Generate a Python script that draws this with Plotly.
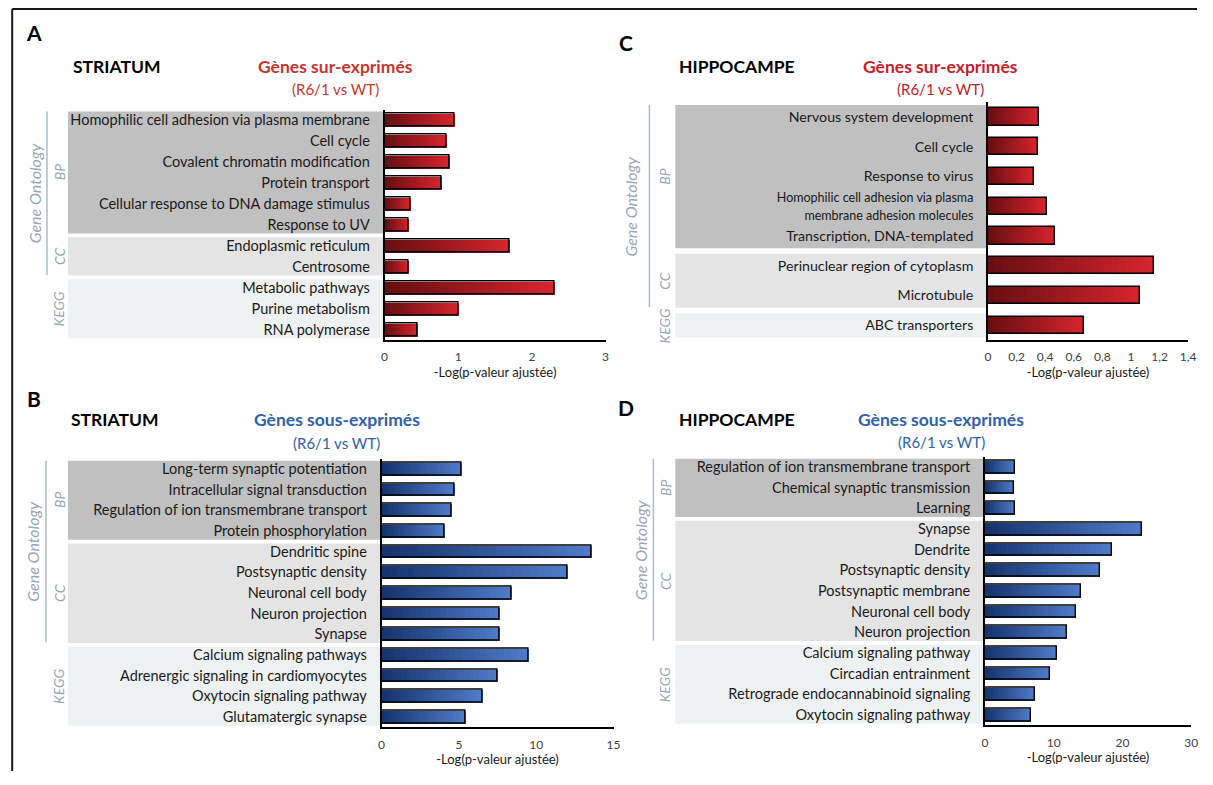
import plotly.graph_objects as go

W, H = 1213, 785
OX, OY = 8, 8            # page body margin
FW, FH = W - 2 * OX, H - 2 * OY - 6   # keep the page free of scrollbars
XS, XC = 0.995, 385      # small horizontal correction around the left plot edge

# ---- data ----
cats_a = ["Homophilic cell adhesion via plasma membrane", "Cell cycle", "Covalent chromatin modification",
          "Protein transport", "Cellular response to DNA damage stimulus", "Response to UV",
          "Endoplasmic reticulum", "Centrosome", "Metabolic pathways", "Purine metabolism", "RNA polymerase"]
vals_a = [0.95, 0.84, 0.88, 0.77, 0.35, 0.33, 1.69, 0.32, 2.31, 1.01, 0.45]
groups_a = [6, 2, 3]

cats_b = ["Long-term synaptic potentiation", "Intracellular signal transduction",
          "Regulation of ion transmembrane transport", "Protein phosphorylation", "Dendritic spine",
          "Postsynaptic density", "Neuronal cell body", "Neuron projection", "Synapse",
          "Calcium signaling pathways", "Adrenergic signaling in cardiomyocytes",
          "Oxytocin signaling pathway", "Glutamatergic synapse"]
vals_b = [5.2, 4.7, 4.5, 4.1, 13.6, 12.0, 8.4, 7.6, 7.6, 9.5, 7.5, 6.5, 5.4]
groups_b = [4, 5, 4]

cats_c = ["Nervous system development", "Cell cycle", "Response to virus",
          "Homophilic cell adhesion via plasma membrane adhesion molecules",
          "Transcription, DNA-templated", "Perinuclear region of cytoplasm", "Microtubule",
          "ABC transporters"]
vals_c = [0.36, 0.35, 0.32, 0.41, 0.47, 1.16, 1.06, 0.67]
groups_c = [5, 2, 1]
labels_c = ["Nervous system development", "Cell cycle", "Response to virus",
            "<span style='font-size:12.5px'>Homophilic cell adhesion via plasma<br>membrane adhesion molecules</span>",
            "Transcription, DNA-templated", "Perinuclear region of cytoplasm", "Microtubule",
            "ABC transporters"]

cats_d = ["Regulation of ion transmembrane transport", "Chemical synaptic transmission", "Learning",
          "Synapse", "Dendrite", "Postsynaptic density", "Postsynaptic membrane", "Neuronal cell body",
          "Neuron projection", "Calcium signaling pathway", "Circadian entrainment",
          "Retrograde endocannabinoid signaling", "Oxytocin signaling pathway"]
vals_d = [4.4, 4.2, 4.4, 22.8, 18.5, 16.8, 13.9, 13.3, 11.9, 10.5, 9.4, 7.3, 6.7]
groups_d = [3, 6, 4]

group_names = ["BP", "CC", "KEGG"]
xtitle = "-Log(p-valeur ajustée)"

RED = ((104, 14, 18), (214, 36, 44))
BLUE = ((22, 52, 110), (78, 122, 200))
BAND = ["#c0c0c0", "#e4e4e4", "#eef1f2"]
GREYBLUE = "#95a6b6"
FONT = "Lato"
TXT = "#1a1a1a"


def px(x):
    x = XC + (x - XC) / XS
    return (x - OX) / FW


def py(y):
    return 1 - (y - OY) / FH


panels = [
    dict(key="", cats=cats_a, vals=vals_a, labels=cats_a, groups=groups_a, xmax=3, dtick=1,
         x=(385, 607), y=(109.5, 340), col=RED, bw=0.62, band_x0=67, lab=14.5,
         go_x=33, line_x=46, grp_x=58, letter="A", letter_xy=(33, 32),
         region="STRIATUM", region_xy=(70, 67), title="Gènes sur-exprimés", title_col="#c8352e",
         title_xy=(336, 67), sub_y=89),
    dict(key="2", cats=cats_b, vals=vals_b, labels=cats_b, groups=groups_b, xmax=15, dtick=5,
         x=(382, 615), y=(458.7, 727.3), col=BLUE, bw=0.62, band_x0=67, lab=14.5,
         go_x=32, line_x=45, grp_x=58, letter="B", letter_xy=(33, 398),
         region="STRIATUM", region_xy=(68, 419), title="Gènes sous-exprimés", title_col="#2f62ad",
         title_xy=(337, 420), sub_y=443),
    dict(key="3", cats=cats_c, vals=vals_c, labels=labels_c, groups=groups_c, xmax=1.4, dtick=0.2,
         x=(991, 1192), y=(102, 340), col=RED, bw=0.58, band_x0=677, lab=14.2,
         go_x=632, line_x=651, grp_x=666, letter="C", letter_xy=(627, 42),
         region="HIPPOCAMPE", region_xy=(679, 67), title="Gènes sur-exprimés", title_col="#c8202a",
         title_xy=(943, 67), sub_y=89),
    dict(key="4", cats=cats_d, vals=vals_d, labels=cats_d, groups=groups_d, xmax=30, dtick=10,
         x=(988, 1195), y=(456.7, 725.3), col=BLUE, bw=0.62, band_x0=677, lab=14.5,
         go_x=642, line_x=655, grp_x=667, letter="D", letter_xy=(627, 407),
         region="HIPPOCAMPE", region_xy=(679, 420), title="Gènes sous-exprimés", title_col="#2f62ad",
         title_xy=(944, 419), sub_y=442),
]

fig = go.Figure()
shapes = []
annotations = []
NSEG = 24

for p in panels:
    xa, ya = "x" + p["key"], "y" + p["key"]
    n = len(p["cats"])
    (c0, c1) = p["col"]
    # horizontal gradient: overlaid bars, longest (brightest) first, shortest (darkest) on top
    for k in range(NSEG):
        t = 1 - k / (NSEG - 1)
        c = "rgb(%d,%d,%d)" % tuple(round(c0[i] + (c1[i] - c0[i]) * t) for i in range(3))
        fig.add_trace(go.Bar(
            y=p["cats"], x=[v * (NSEG - k) / NSEG for v in p["vals"]],
            orientation="h", width=p["bw"], marker=dict(color=c, line=dict(width=0)),
            xaxis=xa, yaxis=ya, showlegend=False, hoverinfo="skip"))
    fig.add_trace(go.Bar(
        y=p["cats"], x=p["vals"], orientation="h", width=p["bw"],
        marker=dict(color="rgba(0,0,0,0)", line=dict(color="black", width=1.4)),
        xaxis=xa, yaxis=ya, showlegend=False))

    axx = dict(domain=[px(p["x"][0]), px(p["x"][1])], anchor=ya, range=[0, p["xmax"]],
               dtick=p["dtick"], tick0=0, showgrid=False, zeroline=False, showline=True,
               linecolor="black", linewidth=1.6, ticks="", ticklabelstandoff=5,
               tickfont=dict(size=12, color="#404040"),
               title=dict(text=xtitle, font=dict(size=13, color=TXT), standoff=4))
    axy = dict(domain=[py(p["y"][1]), py(p["y"][0])], anchor=xa, type="category",
               categoryorder="array", categoryarray=p["cats"], range=[n - 0.5, -0.5],
               tickvals=p["cats"], ticktext=p["labels"], showgrid=False, zeroline=False,
               showline=True, linecolor="black", linewidth=1.6, ticks="",
               tickfont=dict(size=p["lab"], color=TXT), ticklabelstandoff=10)
    fig.update_layout(**{"xaxis" + p["key"]: axx, "yaxis" + p["key"]: axy})

    top, bot = p["y"]
    band = (bot - top) / n

    def yat(idx):
        return py(top + (idx + 0.5) * band)

    start = 0
    for gi, cnt in enumerate(p["groups"]):
        y0 = top + start * band + 0.1 * band
        y1 = top + (start + cnt) * band - 0.08 * band
        shapes.append(dict(type="rect", xref="paper", yref="paper", x0=px(p["band_x0"]),
                           x1=px(p["x"][0]), y0=py(y1), y1=py(y0), fillcolor=BAND[gi],
                           line=dict(width=0), layer="below"))
        annotations.append(dict(text="<i>%s</i>" % group_names[gi], x=px(p["grp_x"]),
                                y=yat(start + (cnt - 1) / 2), xref="paper", yref="paper",
                                xanchor="center", yanchor="middle", textangle=-90, showarrow=False,
                                font=dict(size=14, color=GREYBLUE)))
        start += cnt
    # Gene Ontology bracket (BP + CC)
    go_end = p["groups"][0] + p["groups"][1]
    gy0 = top + 0.1 * band
    gy1 = top + go_end * band - 0.1 * band
    shapes.append(dict(type="line", xref="paper", yref="paper", x0=px(p["line_x"]), x1=px(p["line_x"]),
                       y0=py(gy0), y1=py(gy1), line=dict(color="#a9bccb", width=1.5)))
    annotations.append(dict(text="<i>Gene Ontology</i>", x=px(p["go_x"]), y=py((gy0 + gy1) / 2),
                            xref="paper", yref="paper", xanchor="center", yanchor="middle",
                            textangle=-90, showarrow=False, font=dict(size=16, color=GREYBLUE)))
    # texts
    annotations.append(dict(text="<b>%s</b>" % p["letter"], x=px(p["letter_xy"][0]), y=py(p["letter_xy"][1]),
                            xref="paper", yref="paper", showarrow=False, xanchor="center", yanchor="middle",
                            font=dict(size=21, color="black")))
    annotations.append(dict(text="<b>%s</b>" % p["region"], x=px(p["region_xy"][0]), y=py(p["region_xy"][1]),
                            xref="paper", yref="paper", showarrow=False, xanchor="left", yanchor="middle",
                            font=dict(size=17.5, color="black")))
    annotations.append(dict(text="<b>%s</b>" % p["title"], x=px(p["title_xy"][0]), y=py(p["title_xy"][1]),
                            xref="paper", yref="paper", showarrow=False, xanchor="center", yanchor="middle",
                            font=dict(size=17.5, color=p["title_col"])))
    annotations.append(dict(text="(R6/1 vs WT)", x=px(p["title_xy"][0]), y=py(p["sub_y"]),
                            xref="paper", yref="paper", showarrow=False, xanchor="center", yanchor="middle",
                            font=dict(size=15, color=p["title_col"])))

# outer frame lines
shapes.append(dict(type="line", xref="paper", yref="paper", x0=0.001, x1=1, y0=py(9), y1=py(9),
                   line=dict(color="#1a1a1a", width=2)))
shapes.append(dict(type="line", xref="paper", yref="paper", x0=0.001, x1=0.001, y0=py(9), y1=0,
                   line=dict(color="#1a1a1a", width=2)))

fig.update_layout(
    width=FW, height=FH, margin=dict(l=0, r=0, t=0, b=0),
    barmode="overlay", bargap=0, separators=", ",
    plot_bgcolor="white", paper_bgcolor="white",
    font=dict(family=FONT, color=TXT),
    shapes=shapes, annotations=annotations,
)

fig.write_html("out.html")
